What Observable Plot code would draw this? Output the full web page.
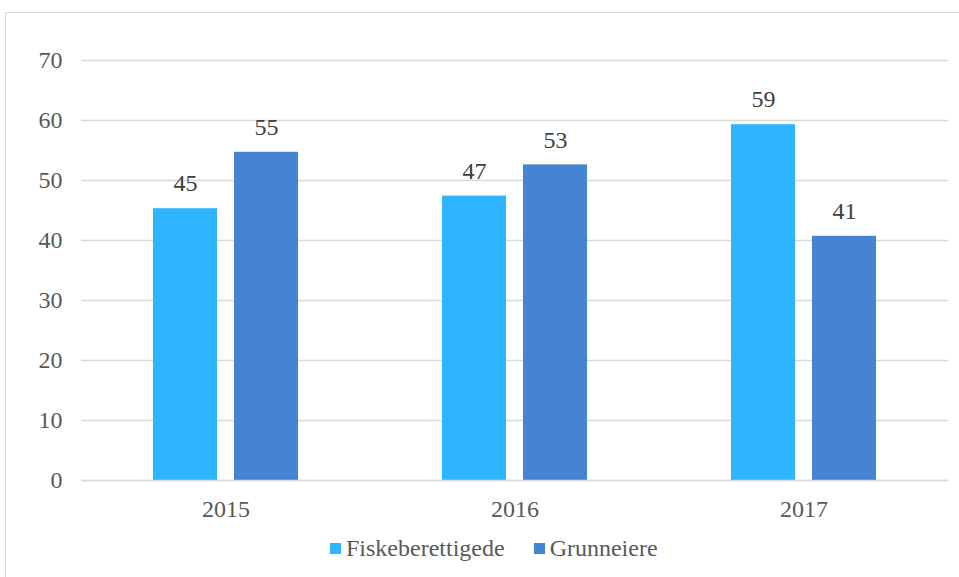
<!DOCTYPE html>
<html>
<head>
<meta charset="utf-8">
<script src="https://cdn.jsdelivr.net/npm/d3@7"></script>
<script src="https://cdn.jsdelivr.net/npm/@observablehq/plot@0.6"></script>
<style>
  html, body { margin: 0; padding: 0; background: #fff; overflow: hidden; width: 959px; height: 577px; font-family: "Liberation Serif", serif; }
  #frame { position: absolute; left: 5px; top: 12px; width: 1000px; height: 1000px; border: 1.5px solid #d9d9d9; box-sizing: border-box; z-index: 0; }
  #chart { position: absolute; left: 0; top: 0; z-index: 1; font-family: "Liberation Serif", serif; }
  #legend { display: flex; align-items: center; height: 36px; padding-left: 330px;
    font-family: "Liberation Serif", "Times New Roman", serif; font-size: 24px; color: #595959; }
  .item { display: flex; align-items: center; margin-right: 29px; }
  .sw { width: 11px; height: 11px; margin-right: 5px; }
</style>
</head>
<body>
<div id="frame"></div>
<div id="chart"></div>
<script>
const years = ["2015", "2016", "2017"];
const series = ["Fiskeberettigede", "Grunneiere"];
const fiskeberettigede = [45.3, 47.4, 59.3];
const grunneiere = [54.7, 52.6, 40.7];
const yTicks = [0, 10, 20, 30, 40, 50, 60, 70];
const colors = ["#2EB5FF", "#4584D3"];

const data = [];
years.forEach((yr, i) => {
  data.push({year: yr, series: series[0], value: fiskeberettigede[i]});
  data.push({year: yr, series: series[1], value: grunneiere[i]});
});

const serif = "Times New Roman, Liberation Serif, serif";

const chart = Plot.plot({
  width: 959,
  height: 530,
  marginTop: 60,
  marginBottom: 50,
  marginLeft: 81,
  marginRight: 11,
  style: "font-family: serif; font-size: 24px; color: #595959; background: transparent; overflow: visible;",
  fx: {domain: years, padding: 0, label: null, tickSize: 0, tickPadding: 19},
  x: {domain: series, paddingInner: 0.207, paddingOuter: 0.866, axis: null},
  y: {domain: [0, 70], ticks: yTicks, label: null, tickSize: 0, tickPadding: 19},
  color: {domain: series, range: colors},
  marks: [
    Plot.gridY(yTicks, {stroke: "#d9d9d9", strokeOpacity: 1, strokeWidth: 1.3}),
    Plot.barY(data, {fx: "year", x: "series", y: "value", fill: "series"}),
    Plot.ruleY([0], {stroke: "#d9d9d9", strokeWidth: 1.6}),
    Plot.text(data, {fx: "year", x: "series", y: "value", text: d => String(Math.round(d.value)), dy: -25, fill: "#404040", fontSize: 24, fontFamily: serif})
  ]
});
chart.setAttribute("font-family", serif);
chart.querySelectorAll("*").forEach(el => {
  if (el.hasAttribute("font-family")) el.setAttribute("font-family", serif);
  if (el.tagName.toLowerCase() === "text") {
    el.setAttribute("font-family", serif);
    el.style.setProperty("font-family", serif, "important");
  }
});
document.getElementById("chart").appendChild(chart);

const legend = document.createElement("div");
legend.id = "legend";
series.forEach((s, i) => {
  const it = document.createElement("div");
  it.className = "item";
  const sw = document.createElement("div");
  sw.className = "sw";
  sw.style.background = colors[i];
  const t = document.createElement("span");
  t.textContent = s;
  it.appendChild(sw);
  it.appendChild(t);
  legend.appendChild(it);
});
document.getElementById("chart").appendChild(legend);
</script>
</body>
</html>
